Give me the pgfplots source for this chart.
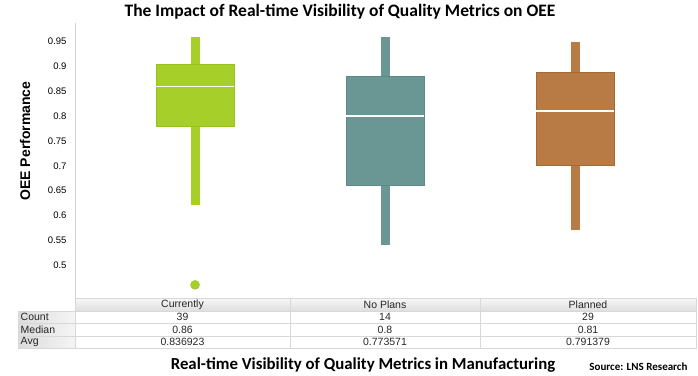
\documentclass[border=0pt]{standalone}
\usepackage{pgfplots}
\pgfplotsset{compat=1.18}
\usepackage{fontspec}
\setmainfont{Liberation Sans}
\newfontfamily\carlito{Carlito}
\definecolor{cgreen}{RGB}{166,207,42}
\definecolor{cgreenD}{RGB}{150,195,30}
\definecolor{cteal}{RGB}{106,150,148}
\definecolor{ctealD}{RGB}{92,138,136}
\definecolor{corange}{RGB}{185,123,70}
\definecolor{corangeD}{RGB}{168,104,50}
\definecolor{cellline}{RGB}{216,216,216}
\begin{document}
\begin{tikzpicture}
\path[use as bounding box] (0pt,0pt) rectangle (698pt,375pt);
\begin{axis}[
  at={(75pt,77pt)}, anchor=south west,
  scale only axis, width=621pt, height=275pt,
  xmin=-0.632, xmax=2.637, ymin=0.4335, ymax=0.9877,
  axis x line*=bottom, axis y line*=left,
  axis line style={draw=black!18, line width=0.8pt},
  xtick=\empty,
  ytick={0.5,0.55,0.6,0.65,0.7,0.75,0.8,0.85,0.9,0.95},
  major tick length=0pt,
  /pgf/number format/assume math mode=true,
  yticklabel style={font=\fontsize{9.5}{11}\selectfont, xshift=-5pt},
  clip=false,
]
% --- Currently ---
\addplot[draw=cgreen, line width=9pt, forget plot] coordinates {(0,0.62) (0,0.78)};
\addplot[draw=cgreen, line width=9pt, forget plot] coordinates {(0,0.905) (0,0.96)};
\addplot[fill=cgreen, draw=cgreenD, line width=0.6pt, forget plot] coordinates {(-0.205,0.78) (0.205,0.78) (0.205,0.905) (-0.205,0.905)} --cycle;
\addplot[draw=white, line width=1.6pt, forget plot] coordinates {(-0.205,0.86) (0.205,0.86)};
\addplot[only marks, mark=*, mark size=4.5pt, mark options={fill=cgreen, draw=cgreenD}, forget plot] coordinates {(0,0.46)};
% --- No Plans ---
\addplot[draw=cteal, line width=9pt, forget plot] coordinates {(1,0.54) (1,0.66)};
\addplot[draw=cteal, line width=9pt, forget plot] coordinates {(1,0.881) (1,0.96)};
\addplot[fill=cteal, draw=ctealD, line width=0.6pt, forget plot] coordinates {(0.795,0.66) (1.205,0.66) (1.205,0.881) (0.795,0.881)} --cycle;
\addplot[draw=white, line width=1.6pt, forget plot] coordinates {(0.795,0.80) (1.205,0.80)};
% --- Planned ---
\addplot[draw=corange, line width=9pt, forget plot] coordinates {(2,0.57) (2,0.70)};
\addplot[draw=corange, line width=9pt, forget plot] coordinates {(2,0.889) (2,0.95)};
\addplot[fill=corange, draw=corangeD, line width=0.6pt, forget plot] coordinates {(1.795,0.70) (2.205,0.70) (2.205,0.889) (1.795,0.889)} --cycle;
\addplot[draw=white, line width=1.6pt, forget plot] coordinates {(1.795,0.81) (2.205,0.81)};
\end{axis}
\begin{scope}[x=1pt,y=1pt]
\shade[top color=black!3, bottom color=black!13] (75,64) rectangle (696,76.5);
\draw[cellline, line width=0.6pt] (75,64) rectangle (290,76.5);
\draw[cellline, line width=0.6pt] (290,64) rectangle (480,76.5);
\draw[cellline, line width=0.6pt] (480,64) rectangle (696,76.5);
\foreach \ya/\yb in {51.5/64, 39/51.5, 26.5/39}{
  \shade[left color=black!14, right color=black!4] (18,\ya) rectangle (75,\yb);
  \draw[cellline, line width=0.6pt] (18,\ya) rectangle (75,\yb);
  \draw[cellline, line width=0.6pt] (75,\ya) rectangle (290,\yb);
  \draw[cellline, line width=0.6pt] (290,\ya) rectangle (480,\yb);
  \draw[cellline, line width=0.6pt] (480,\ya) rectangle (696,\yb);
}
\begin{scope}[every node/.style={font=\fontsize{10.5}{12}\selectfont, inner sep=0pt, text=black!85}]
\node at (182.5,70.25) {Currently};
\node at (385,70.25) {No Plans};
\node at (588,70.25) {Planned};
\node[anchor=west] at (20.5,57.75) {Count};
\node[anchor=west] at (20.5,45.25) {Median};
\node[anchor=west] at (20.5,32.75) {Avg};
\node at (182.5,57.75) {39};
\node at (385,57.75) {14};
\node at (588,57.75) {29};
\node at (182.5,45.25) {0.86};
\node at (385,45.25) {0.8};
\node at (588,45.25) {0.81};
\node at (182.5,32.75) {0.836923};
\node at (385,32.75) {0.773571};
\node at (588,32.75) {0.791379};
\end{scope}
\node[font=\carlito\bfseries\fontsize{17.5}{20}\selectfont] at (340,363) {The Impact of Real-time Visibility of Quality Metrics on OEE};
\node[font=\bfseries\fontsize{14}{16}\selectfont, rotate=90] at (25,234) {OEE Performance};
\node[font=\carlito\bfseries\fontsize{16.8}{19}\selectfont] at (363,10) {Real-time Visibility of Quality Metrics in Manufacturing};
\node[font=\carlito\bfseries\fontsize{11}{13}\selectfont, anchor=east] at (691,8.5) {Source: LNS Research};
\end{scope}
\end{tikzpicture}
\end{document}
